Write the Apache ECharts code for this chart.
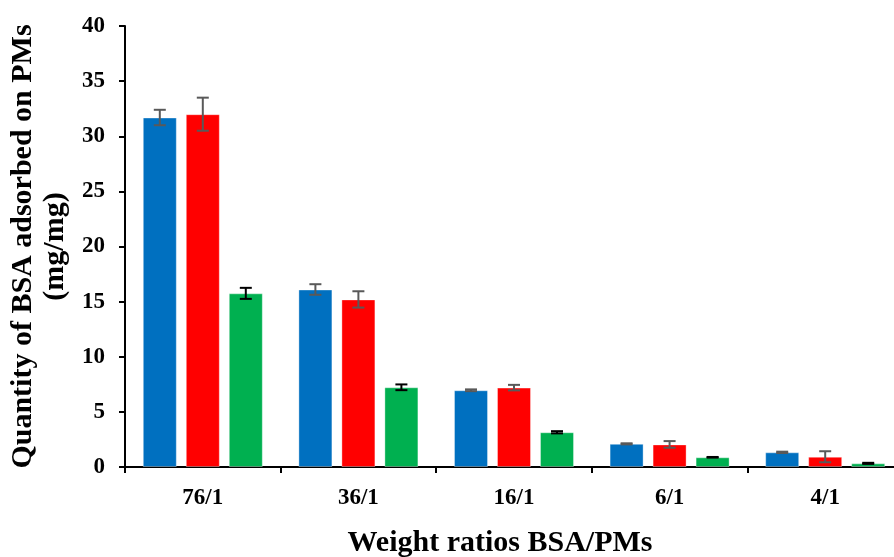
<!DOCTYPE html>
<html>
<head>
<meta charset="utf-8">
<script src="https://cdn.jsdelivr.net/npm/echarts@6/dist/echarts.min.js"></script>
<style>
    html, body { margin: 0; padding: 0; background: #fff; }
    #chart { width: 894px; height: 557px; }
</style>
</head>
<body>
<div id="chart"></div>
<script>
// categories (weight ratio BSA/PMs)
const ratios = ['76/1', '36/1', '16/1', '6/1', '4/1']

// three series, mean values and error (± sd)
const blueValues = [31.7, 16.1, 6.96, 2.1, 1.33]
const blueErrors = [0.7, 0.48, 0.08, 0.05, 0.06]
const redValues = [32.0, 15.2, 7.2, 2.05, 0.93]
const redErrors = [1.5, 0.74, 0.25, 0.3, 0.5]
const greenValues = [15.75, 7.23, 3.15, 0.88, 0.33]
const greenErrors = [0.5, 0.26, 0.1, 0.03, 0.05]

const yTicks = [0, 5, 10, 15, 20, 25, 30, 35, 40]

const BAR_W = 34
const BAR_GAP = 9
const FONT = '"Liberation Serif", "Times New Roman", serif'

const chart = echarts.init(document.getElementById('chart'))

const errorSeries = (values, errors, index, color) => ({
    type: 'custom',
    z: 10,
    renderItem: (params, api) => {
        const i = api.value(0)
        const offset = (index - 1) * (BAR_W + BAR_GAP)
        const hi = api.coord([i, api.value(1) + api.value(2)])
        const lo = api.coord([i, api.value(1) - api.value(2)])
        const x = hi[0] + offset
        const cap = 6
        const style = { stroke: color, lineWidth: 2 }
        return {
            type: 'group',
            children: [
                { type: 'line', shape: { x1: x, y1: hi[1], x2: x, y2: lo[1] }, style },
                { type: 'line', shape: { x1: x - cap, y1: hi[1], x2: x + cap, y2: hi[1] }, style },
                { type: 'line', shape: { x1: x - cap, y1: lo[1], x2: x + cap, y2: lo[1] }, style }
            ]
        }
    },
    data: values.map((v, i) => [i, v, errors[i]])
})

const barSeries = (name, values, color) => ({
    name,
    type: 'bar',
    barWidth: BAR_W,
    barGap: (BAR_GAP / BAR_W * 100) + '%',
    itemStyle: {
        color,
        borderColor: 'rgba(255,255,255,0.35)',
        borderWidth: 1
    },
    data: values
})

const option = {
    animation: false,
    grid: {
        left: 125,
        top: 26,
        width: 778,
        bottom: 90,
        outerBoundsMode: 'none'
    },
    xAxis: {
        type: 'category',
        data: ratios,
        name: 'Weight ratios BSA/PMs',
        nameLocation: 'middle',
        nameGap: 61,
        nameTextStyle: {
            fontFamily: FONT,
            fontWeight: 'bold',
            fontSize: 30,
            color: '#000',
            padding: [0, 28, 0, 0]
        },
        axisLine: { lineStyle: { color: '#000', width: 2 } },
        axisTick: { show: true, length: 6, lineStyle: { color: '#000', width: 2 } },
        axisLabel: {
            margin: 20,
            fontFamily: FONT,
            fontWeight: 'bold',
            fontSize: 23,
            color: '#000'
        }
    },
    yAxis: {
        type: 'value',
        min: yTicks[0],
        max: yTicks[yTicks.length - 1],
        interval: 5,
        name: 'Quantity of BSA adsorbed on PMs\n(mg/mg)',
        nameLocation: 'middle',
        nameGap: 54,
        nameTextStyle: {
            fontFamily: FONT,
            fontWeight: 'bold',
            fontSize: 30,
            lineHeight: 32,
            color: '#000'
        },
        splitLine: { show: false },
        axisLine: { show: true, lineStyle: { color: '#000', width: 2 } },
        axisTick: { show: true, length: 6, lineStyle: { color: '#000', width: 2 } },
        axisLabel: {
            margin: 20,
            fontFamily: FONT,
            fontWeight: 'bold',
            fontSize: 23,
            color: '#000'
        }
    },
    series: [
        barSeries('A', blueValues, '#0070C0'),
        barSeries('B', redValues, '#FF0000'),
        barSeries('C', greenValues, '#00B050'),
        errorSeries(blueValues, blueErrors, 0, '#595959'),
        errorSeries(redValues, redErrors, 1, '#595959'),
        errorSeries(greenValues, greenErrors, 2, '#000000')
    ]
}

chart.setOption(option)
</script>
</body>
</html>
